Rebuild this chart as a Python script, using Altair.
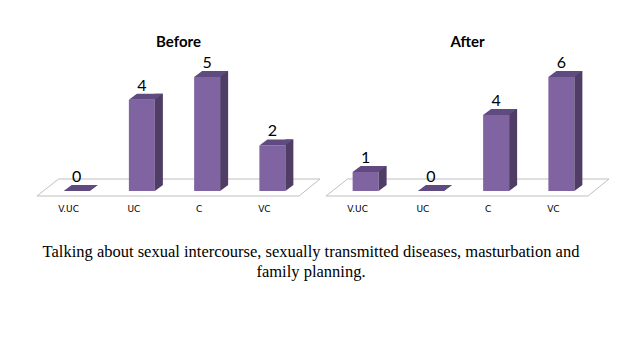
import altair as alt
import pandas as pd

categories = ["V.UC", "UC", "C", "VC"]
before_values = [0, 4, 5, 2]
after_values = [1, 0, 4, 6]
panel_titles = ["Before", "After"]
caption_lines = [
    "Talking about sexual intercourse, sexually transmitted diseases, masturbation and",
    "family planning.",
]

FRONT = "#8064A2"
SIDE = "#4F3D66"
TOP = "#5F4B7F"
W, H = 261, 114
BW, DX, DY = 26, 8, 6
STEP = W / len(categories)
SIDE_POS = 0.5 + (BW / 2 + DX / 2) / STEP

top_path = f"M{-BW/2},0 L{BW/2},0 L{BW/2+DX},{-DY} L{-BW/2+DX},{-DY} Z"
tri_path = f"M{BW/2},0 L{BW/2},{-DY} L{BW/2+DX},{-DY} Z"
floor_path = "M-7,5 L255,5 L276,-12 L14.5,-12 Z"


def panel(values, title):
    vmax = max(values)
    lift = DY * vmax / H  # depth shift expressed in data units
    df = pd.DataFrame({"category": categories, "value": values,
                       "title": [title] * len(values)})
    axis = alt.Axis(
        title=None, labelAngle=0, domain=False, ticks=False,
        labelFont="DejaVu Sans", labelFontSize=9, labelColor="#000000",
        labelOffset=-8, labelPadding=13,
    )
    xscale = alt.Scale(paddingInner=0, paddingOuter=0)
    x = alt.X("category:N", sort=categories, scale=xscale, axis=axis)
    xs = alt.X("category:N", sort=categories, scale=xscale, axis=axis,
               bandPosition=SIDE_POS)
    yscale = alt.Scale(domain=[0, vmax], nice=False)
    y = alt.Y("value:Q", scale=yscale, axis=None)
    base = alt.Chart(df).transform_calculate(
        side_top=f"datum.value + {lift}", side_bot=f"{lift}", zero="0"
    )
    first = base.transform_filter(alt.datum.category == categories[0])
    floor = first.mark_point(
        shape=floor_path, size=4, fill="white", stroke="#BFBFBF",
        strokeWidth=1, opacity=1, fillOpacity=1,
    ).encode(x=alt.value(0), y=alt.value(H))
    front = base.mark_bar(size=BW, color=FRONT).encode(x=x, y=y)
    side = base.mark_rule(strokeWidth=DX, color=SIDE, strokeCap="butt").encode(
        x=xs, y=alt.Y("side_top:Q", scale=yscale, axis=None), y2="side_bot:Q"
    )
    tri = base.mark_point(shape=tri_path, size=4, filled=True, color=SIDE,
                          opacity=1).encode(x=x, y=alt.Y("zero:Q", scale=yscale, axis=None))
    topf = base.mark_point(shape=top_path, size=4, filled=True, color=TOP,
                           opacity=1).encode(x=x, y=y)
    labels = base.mark_text(dy=-9, baseline="alphabetic", font="Lato",
                            fontSize=16, color="black").encode(x=x, y=y, text="value:Q")
    ttl = first.mark_text(
        font="Lato", fontWeight="bold", fontSize=15, baseline="middle", color="black"
    ).encode(x=alt.value(W / 2 + 4), y=alt.value(-35), text="title:N")
    return alt.layer(floor, front, side, tri, topf, labels, ttl).properties(
        width=W, height=H
    )


chart = (
    alt.hconcat(
        panel(before_values, panel_titles[0]),
        panel(after_values, panel_titles[1]),
        spacing=2,
    )
    .properties(
        title=alt.TitleParams(
            text=caption_lines, orient="bottom", anchor="middle",
            font="Liberation Serif", fontSize=16.5, fontWeight="normal",
            color="black", lineHeight=20, offset=31, dx=-12,
        ),
        padding={"left": 35, "top": 35, "right": 5, "bottom": 5},
        background="white",
    )
    .configure_view(stroke=None)
)

chart.save("out.html", embed_options={"renderer": "svg", "actions": False})
